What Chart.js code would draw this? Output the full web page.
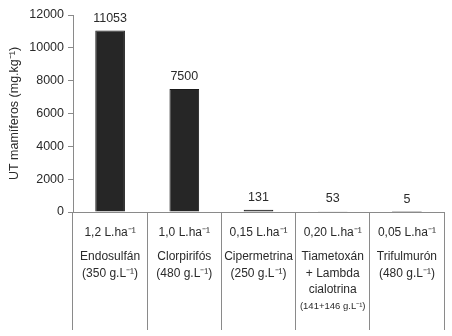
<!DOCTYPE html>
<html lang="es">
<head>
<meta charset="UTF-8">
<script src="https://cdn.jsdelivr.net/npm/chart.js"></script>
<style>
  html, body { margin: 0; padding: 0; background: #fff; }
  #wrap { width: 452px; height: 336px; }
</style>
</head>
<body>
<div id="wrap"><canvas id="myChart"></canvas></div>
<script>
  // datos
  const productos = ['Endosulfán', 'Clorpirifós', 'Cipermetrina', 'Tiametoxán + Lambda cialotrina', 'Trifulmurón'];
  const valores = [11053, 7500, 131, 53, 5];
  const dosis = ['1,2 L.ha⁻¹', '1,0 L.ha⁻¹', '0,15 L.ha⁻¹', '0,20 L.ha⁻¹', '0,05 L.ha⁻¹'];
  const nombres = [
    ['Endosulfán', '(350 g.L⁻¹)'],
    ['Clorpirifós', '(480 g.L⁻¹)'],
    ['Cipermetrina', '(250 g.L⁻¹)'],
    ['Tiametoxán', '+ Lambda', 'cialotrina', '(141+146 g.L⁻¹)'],
    ['Trifulmurón', '(480 g.L⁻¹)']
  ];
  const yTicks = [0, 2000, 4000, 6000, 8000, 10000, 12000];

  const fuente = "'Liberation Sans', Arial, sans-serif";
  const gris = '#8a8a8a';
  const texto = '#2a2a2a';

  // etiquetas sobre las barras y textos debajo del eje
  const textos = {
    id: 'textos',
    afterDatasetsDraw(chart) {
      const ctx = chart.ctx;
      const x = chart.scales.x;
      const meta = chart.getDatasetMeta(0);
      ctx.save();
      ctx.fillStyle = texto;
      ctx.textAlign = 'center';
      ctx.textBaseline = 'alphabetic';
      ctx.font = '12.5px ' + fuente;
      meta.data.forEach((bar, i) => {
        ctx.fillText(String(valores[i]), bar.x, bar.y - 9);
      });
      const base = chart.chartArea.bottom;
      productos.forEach((p, i) => {
        const cx = x.getPixelForValue(i);
        ctx.font = '12px ' + fuente;
        ctx.fillText(dosis[i], cx, base + 24);
        nombres[i].forEach((linea, j) => {
          const chico = linea.startsWith('(141');
          ctx.font = (chico ? '9.5px ' : '12px ') + fuente;
          ctx.fillText(linea, cx, base + 48 + j * 16.5 + (chico ? -1 : 0));
        });
      });
      ctx.restore();
    }
  };

  new Chart(document.getElementById('myChart'), {
    type: 'bar',
    data: {
      labels: productos,
      datasets: [{
        data: valores,
        backgroundColor: '#262626',
        borderColor: '#1a1a1a',
        borderWidth: 1,
        categoryPercentage: 0.8,
        barPercentage: 0.5
      }]
    },
    options: {
      responsive: true,
      maintainAspectRatio: false,
      animation: false,
      layout: { padding: { top: 15, right: 8, bottom: 6, left: 0 } },
      plugins: { legend: { display: false }, tooltip: { enabled: false } },
      scales: {
        x: {
          offset: true,
          grid: { offset: true, drawOnChartArea: false, color: gris, tickLength: 118, lineWidth: 1 },
          border: { color: gris, width: 1 },
          ticks: { display: false }
        },
        y: {
          min: 0,
          max: 12000,
          afterBuildTicks: s => { s.ticks = yTicks.map(v => ({ value: v })); },
          afterFit: s => { s.width = 73; },
          grid: { drawOnChartArea: false, color: gris, tickLength: 5 },
          border: { color: gris, width: 1 },
          ticks: { color: texto, font: { family: fuente, size: 12.5 }, padding: 4, callback: v => String(v) },
          title: {
            display: true,
            text: 'UT mamíferos (mg.kg⁻¹)',
            color: texto,
            font: { family: fuente, size: 12.5 },
            padding: { top: 7, bottom: 0 }
          }
        }
      }
    },
    plugins: [textos]
  });
</script>
</body>
</html>
